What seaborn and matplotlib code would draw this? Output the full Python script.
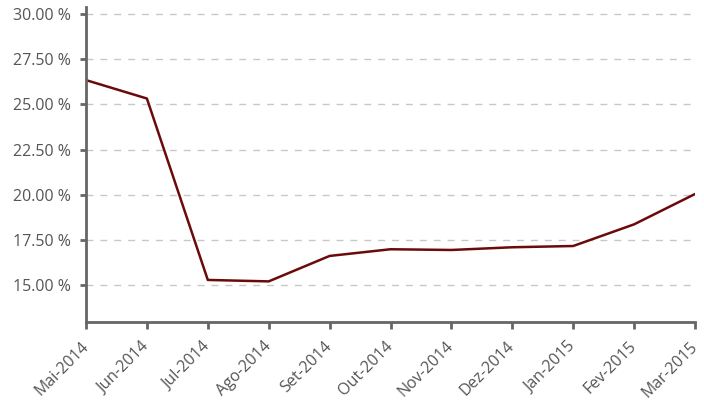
import matplotlib
matplotlib.use("Agg")
import matplotlib.pyplot as plt
import seaborn as sns
import pandas as pd
from matplotlib.ticker import FuncFormatter

months = ["Mai-2014", "Jun-2014", "Jul-2014", "Ago-2014", "Set-2014", "Out-2014",
          "Nov-2014", "Dez-2014", "Jan-2015", "Fev-2015", "Mar-2015"]
values = [26.35, 25.33, 15.28, 15.20, 16.61, 16.98, 16.94, 17.09, 17.16, 18.36, 20.04]
yticks = [15, 17.5, 20, 22.5, 25, 27.5, 30]

df = pd.DataFrame({"month": months, "value": values, "pos": range(len(months))})

sns.set_theme(style="white")
plt.rcParams['font.family'] = ['Open Sans', 'DejaVu Sans']

fig = plt.figure(figsize=(7.04, 4.03), dpi=100)
ax = fig.add_axes([86/704, 1-322/403, (695-86)/704, (322-7)/403])

sns.lineplot(data=df, x="pos", y="value", ax=ax, color="#6B0A0A", linewidth=1.8)

ax.set_xlim(0, len(months)-1)
ax.set_ylim(12.95, 30.4)
ax.set_yticks(yticks)
ax.yaxis.set_major_formatter(FuncFormatter(lambda v, p: f"{v:.2f} %"))
ax.set_xticks(df["pos"])
ax.set_xticklabels(months, rotation=45, ha="right", va="center", rotation_mode="anchor")

ax.grid(axis="y", color="#c8c8c8", linestyle=(0, (5, 5)), linewidth=1)
ax.set_axisbelow(True)
for s in ["top", "right"]:
    ax.spines[s].set_visible(False)
for s in ["left", "bottom"]:
    ax.spines[s].set_color("#666666")
    ax.spines[s].set_linewidth(2)

ax.tick_params(axis="x", which="both", bottom=True, length=5, width=2, color="#666666",
               labelsize=11.5, labelcolor="#555555", pad=11)
ax.tick_params(axis="y", which="both", left=True, length=4.5, width=2, color="#666666",
               labelsize=11.5, labelcolor="#555555", pad=6.5)
ax.set_xlabel("")
ax.set_ylabel("")

fig.savefig("out.png", dpi=100)
